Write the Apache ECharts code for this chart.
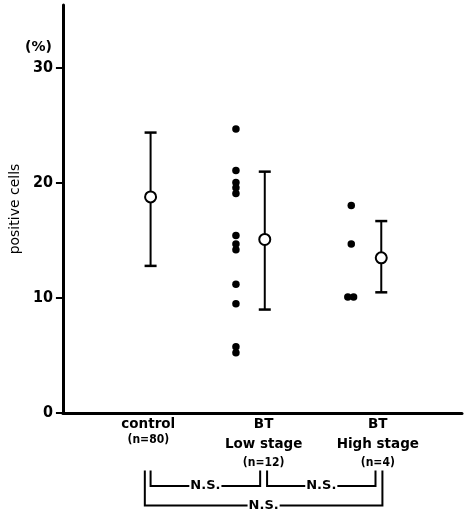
<!DOCTYPE html>
<html><head><meta charset="utf-8">
<script src="https://cdn.jsdelivr.net/npm/echarts@6/dist/echarts.min.js"></script>
<style>html,body{margin:0;padding:0;background:#fff}#c{width:474px;height:516px}</style>
</head><body><div id="c"></div>
<script>
// ---- data ----
var groupNames = ['control', 'BT\nLow stage', 'BT\nHigh stage'];
var groupN = ['(n=80)', '(n=12)', '(n=4)'];
var groupPos = [1, 1.99, 3];          // x position of mean/error bar
var labelPos = [0.98, 1.98, 2.97];    // x position of category labels
var means = [18.8, 15.1, 13.5];
var lower = [12.8, 9.0, 10.5];
var upper = [24.4, 21.0, 16.7];
var lowStageX = [1.74,1.74,1.74,1.74,1.74,1.74,1.74,1.74,1.74,1.74,1.74,1.74];
var lowStageY = [24.7, 21.1, 20.05, 19.6, 19.1, 15.45, 14.7, 14.2, 11.2, 9.5, 5.77, 5.24];
var highStageX = [2.74, 2.74, 2.71, 2.76];
var highStageY = [18.05, 14.7, 10.1, 10.1];
var yTicks = [0, 10, 20, 30];
// brackets: [x1, x2, yTop, yBottom, text]
var brackets = [
  [1.0, 1.95, -5.0, -6.35, 'N.S.'],
  [2.01, 2.95, -5.0, -6.35, 'N.S.'],
  [0.95, 3.01, -5.0, -8.05, 'N.S.']
];

var FONT = 'DejaVu Sans';
var FONTC = '"DejaVu Sans Condensed", "DejaVu Sans"';
var chart = echarts.init(document.getElementById('c'));

var dots = [];
lowStageX.forEach(function(x,i){ dots.push([x, lowStageY[i]]); });
highStageX.forEach(function(x,i){ dots.push([x, highStageY[i]]); });

var errData = groupPos.map(function(x,i){ return [x, means[i], lower[i], upper[i]]; });
var meanData = groupPos.map(function(x,i){ return [x, means[i]]; });

chart.setOption({
  animation: false,
  grid: {left: 61, right: 12, top: 5, bottom: 103},
  xAxis: {
    type: 'value', min: 0.24, max: 3.7,
    splitLine: {show: false},
    axisLine: {show: true, onZero: false, lineStyle: {color: '#000', width: 3}},
    axisTick: {show: false},
    axisLabel: {
      show: true, customValues: labelPos, margin: 5,
      formatter: function(v){
        var i = labelPos.indexOf(v);
        if (i < 0) return '';
        var lines = groupNames[i].split('\n');
        if (lines.length === 1) {
          return '{a|' + lines[0] + '}\n{n1|' + groupN[i] + '}';
        }
        return '{a|' + lines[0] + '}\n{c|' + lines[1] + '}\n{n|' + groupN[i] + '}';
      },
      rich: {
        a: {fontFamily: FONT, fontWeight: 'bold', fontSize: 13.5, color: '#000', lineHeight: 13},
        c: {fontFamily: FONT, fontWeight: 'bold', fontSize: 13.5, color: '#000', lineHeight: 27},
        n1: {fontFamily: FONTC, fontWeight: 'bold', fontSize: 12, color: '#000', lineHeight: 17},
        n: {fontFamily: FONTC, fontWeight: 'bold', fontSize: 12, color: '#000', lineHeight: 10}
      }
    }
  },
  yAxis: {
    type: 'value', min: 0, max: 35.5, interval: 10,
    splitLine: {show: false},
    axisLine: {show: true, lineStyle: {color: '#000', width: 3}},
    axisTick: {show: true, customValues: yTicks, length: 7, lineStyle: {color: '#000', width: 2}},
    axisLabel: {show: true, customValues: yTicks, margin: 10, color: '#000', fontFamily: FONTC, fontWeight: 'bold', fontSize: 16},
    name: 'positive cells', nameLocation: 'middle', nameGap: 35,
    nameTextStyle: {fontFamily: FONT, fontSize: 14, color: '#000', fontWeight: 'normal'}
  },
  graphic: [{
    type: 'text', left: 25, top: 40,
    style: {text: '(%)', fontFamily: FONT, fontWeight: 'bold', fontSize: 14, fill: '#000'}
  }],
  series: [
    {
      type: 'custom', z: 2,
      data: errData,
      renderItem: function(params, api){
        var x = api.value(0);
        var top = api.coord([x, api.value(3)]);
        var bot = api.coord([x, api.value(2)]);
        var hw = 6;
        return {type: 'group', children: [
          {type: 'line', shape: {x1: top[0], y1: top[1], x2: bot[0], y2: bot[1]}, style: {stroke: '#000', lineWidth: 2}},
          {type: 'line', shape: {x1: top[0]-hw, y1: top[1], x2: top[0]+hw, y2: top[1]}, style: {stroke:'#000', lineWidth: 2.5}},
          {type: 'line', shape: {x1: bot[0]-hw, y1: bot[1], x2: bot[0]+hw, y2: bot[1]}, style: {stroke:'#000', lineWidth: 2.5}}
        ]};
      }
    },
    {
      type: 'scatter', z: 3, data: meanData,
      symbol: 'circle', symbolSize: 11,
      itemStyle: {color: '#fff', borderColor: '#000', borderWidth: 2, opacity: 1}
    },
    {
      type: 'scatter', z: 3, data: dots,
      symbol: 'circle', symbolSize: 7.5,
      itemStyle: {color: '#000', opacity: 1}
    },
    {
      type: 'custom', z: 4, clip: false,
      data: brackets,
      renderItem: function(params, api){
        var x1 = api.value(0), x2 = api.value(1), yt = api.value(2), yb = api.value(3);
        var p1 = api.coord([x1, yt]), p2 = api.coord([x1, yb]);
        var p3 = api.coord([x2, yb]), p4 = api.coord([x2, yt]);
        var txt = brackets[params.dataIndex][4];
        return {type: 'group', children: [
          {type: 'polyline', shape: {points: [p1, p2, p3, p4]}, style: {stroke: '#000', lineWidth: 2, fill: null}},
          {type: 'text', x: (p2[0]+p3[0])/2, y: p2[1],
           style: {text: txt, fontFamily: FONT, fontWeight: 'bold', fontSize: 13, fill: '#000',
                   align: 'center', verticalAlign: 'middle', backgroundColor: '#fff', padding: [0, 1]}}
        ]};
      }
    }
  ]
});
</script></body></html>
